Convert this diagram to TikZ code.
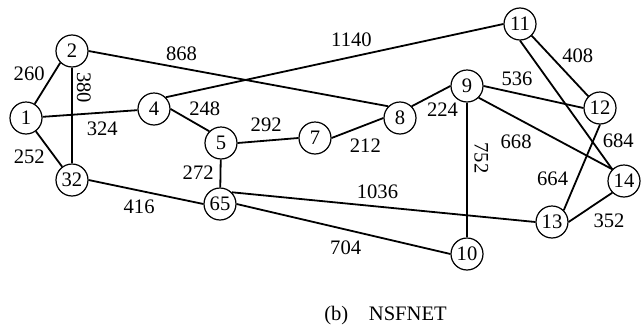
\documentclass[tikz,border=0pt]{standalone}
\usepackage{fontspec}
\setmainfont{Liberation Serif}
\usepackage{tikz}
\tikzstyle{site} = [draw, circle, line width=0.6pt, minimum size=16pt, inner sep=0pt]
\tikzstyle{link} = [line width=0.9pt]
\tikzstyle{wt} = [inner sep=1pt]

\begin{document}
\begin{tikzpicture}[x=0.5pt, y=-0.5pt, font=\fontsize{10.3pt}{12pt}\selectfont]
        \useasboundingbox (0,0) rectangle (644,327);
        \node[site](n1) at (26,118){1};
        \node[site](n2) at (72,51){2};
        \node[site](n32) at (72,180){32};
        \node[site](n4) at (154,109){4};
        \node[site](n5) at (221,143){5};
        \node[site](n7) at (315,138){7};
        \node[site](n8) at (400,118){8};
        \node[site](n65) at (220,204){65};
        \node[site](n9) at (467,86){9};
        \node[site](n11) at (520,24){11};
        \node[site](n12) at (600,108){12};
        \node[site](n14) at (624,181){14};
        \node[site](n13) at (552,222){13};
        \node[site](n10) at (467,254){10};
        \draw[link](n1) -- node[wt, anchor=south east]{260} (n2.south west);
        \draw[link](n2) -- node[wt, pos=0.21, xshift=1pt, rotate=-90, anchor=south]{380} (n32);
        \draw[link](n1) -- node[wt, pos=0.63, below=3pt]{324} (n4);
        \draw[link](n1) -- node[wt, pos=0.45, anchor=north east]{252} (n32);
        \draw[link](n2.east) -- node[wt, pos=0.31, above=2.5pt]{868} (n8.north west);
        \draw[link](n4.north east) -- node[wt, pos=0.55, above=3.5pt]{1140} (n11.west);
        \draw[link](n4.east) -- node[wt, pos=0.41, anchor=south west]{248} (n5.north west);
        \draw[link](n5.east) -- node[wt, pos=0.47, above=3pt]{292} (n7.west);
        \draw[link](n7.east) -- node[wt, pos=0.24, below right=1.5pt]{212} (n8.west);
        \draw[link](n8.north east) -- node[wt, pos=0.32, anchor=north west]{224} (n9.west);
        \draw[link](n5) -- node[wt, pos=0.46, left=2pt]{272} (n65);
        \draw[link](n32.east) -- node[wt, pos=0.44, below=3pt]{416} (n65.west);
        \draw[link](n65.north east) -- node[wt, pos=0.48, above=2.5pt]{1036} (n13.west);
        \draw[link](n65.east) -- node[wt, pos=0.61, below left=1.5pt]{704} (n10.west);
        \draw[link](n9) -- node[wt, pos=0.41, xshift=2.25pt, rotate=-90, anchor=south]{752} (n10);
        \draw[link](n9.east) -- node[wt, pos=0.335, above=2.5pt]{536} (n12.west);
        \draw[link](n11.south east) -- node[wt, pos=0.49, anchor=south west]{408} (n12.north west);
        \draw[link](n11.south) -- node[wt, pos=0.78, right=4pt]{684} (n14.north west);
        \draw[link](n9.south east) -- node[wt, pos=0.44, below left=1.5pt]{668} (n14.north west);
        \draw[link](n12.south) -- node[wt, pos=0.635, left=3pt]{664} (n13.north east);
        \draw[link](n13.east) -- node[wt, pos=0.46, below right=1pt]{352} (n14.south west);
        \node[anchor=base](cap) at (385.5,320){(b)\quad NSFNET};
\end{tikzpicture}
\end{document}
